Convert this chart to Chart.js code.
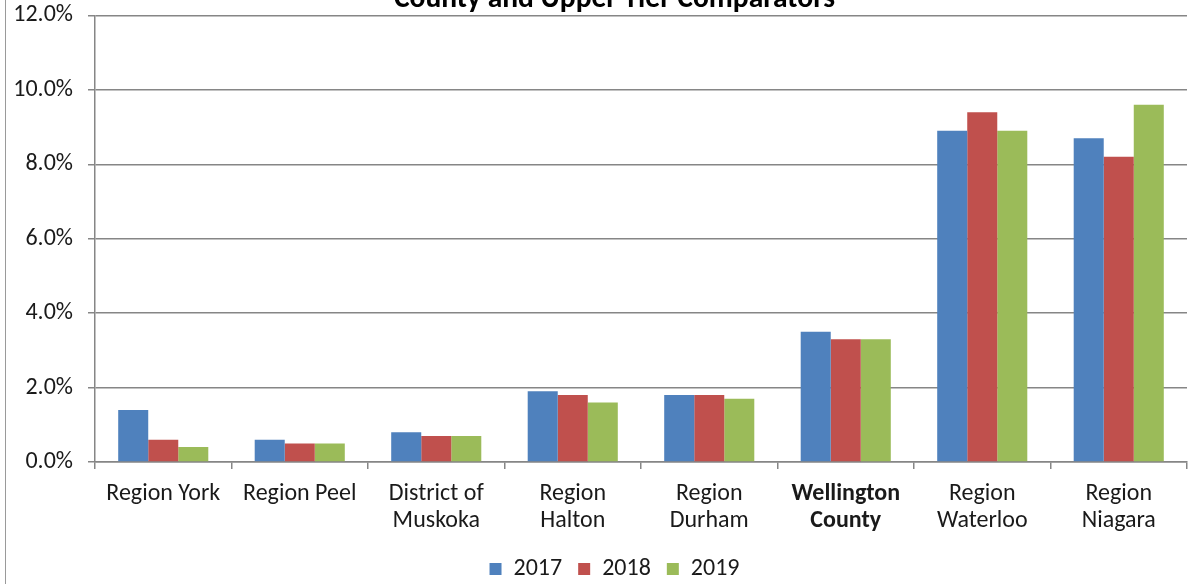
<!DOCTYPE html>
<html>
<head>
<meta charset="utf-8">
<script src="https://cdn.jsdelivr.net/npm/chart.js@4.4.1/dist/chart.umd.min.js"></script>
<style>
  html, body { margin: 0; padding: 0; background: #fff; overflow: hidden; }
  body { width: 1193px; height: 584px; position: relative; overflow: hidden; }
  #wrap { position: absolute; left: 0; top: -30px; width: 1229px; height: 621px; }
  #frame { position: absolute; left: 5px; top: 0; width: 0; height: 584px; border-left: 1px solid #9a9a9a; }
</style>
</head>
<body>
<div id="frame"></div>
<div id="wrap"><canvas id="chart"></canvas></div>
<script>
const categories = [
  'Region York', 'Region Peel', ['District of', 'Muskoka'], ['Region', 'Halton'],
  ['Region', 'Durham'], ['Wellington', 'County'], ['Region', 'Waterloo'], ['Region', 'Niagara']
];
const years = ['2017', '2018', '2019'];
const values2017 = [1.4, 0.6, 0.8, 1.9, 1.8, 3.5, 8.9, 8.7];
const values2018 = [0.6, 0.5, 0.7, 1.8, 1.8, 3.3, 9.4, 8.2];
const values2019 = [0.4, 0.5, 0.7, 1.6, 1.7, 3.3, 8.9, 9.6];
const colors = ['#4f81bd', '#c0504d', '#9bbb59'];

const FONT = 'Calibri, Carlito, "Noto Sans", sans-serif';
const grey = '#868686';

new Chart(document.getElementById('chart'), {
  type: 'bar',
  data: {
    labels: categories,
    datasets: [values2017, values2018, values2019].map((v, i) => ({
      label: years[i],
      data: v,
      backgroundColor: colors[i],
      borderWidth: 0,
      categoryPercentage: 0.66,
      barPercentage: 1.0
    }))
  },
  options: {
    responsive: true,
    maintainAspectRatio: false,
    animation: false,
    layout: { padding: 0 },
    plugins: {
      title: {
        display: true,
        text: 'County and Upper Tier Comparators',
        color: '#000',
        font: { family: FONT, size: 29.5, weight: 'bold', lineHeight: 1.1 },
        padding: { top: 13, bottom: 0 }
      },
      legend: {
        position: 'bottom',
        labels: {
          boxWidth: 12, boxHeight: 12, padding: 16,
          color: '#1a1a1a',
          font: { family: FONT, size: 24 }
        }
      },
      tooltip: { enabled: false }
    },
    scales: {
      x: {
        offset: true,
        grid: { display: true, drawOnChartArea: false, drawTicks: true, tickLength: 7, color: grey, lineWidth: 1.5 },
        border: { color: grey, width: 1.5 },
        ticks: {
          maxRotation: 0, autoSkip: false, padding: 12, color: '#1a1a1a',
          font: ctx => ({ family: FONT, size: 24, weight: ctx.index === 5 ? 'bold' : 'normal', lineHeight: 1.12 })
        },
        afterFit: s => { s.height = 79; }
      },
      y: {
        min: 0, max: 12,
        ticks: {
          stepSize: 2, padding: 15, color: '#1a1a1a',
          font: { family: FONT, size: 24 },
          callback: v => v.toFixed(1) + '%'
        },
        grid: { color: grey, lineWidth: 1.5, tickLength: 7 },
        border: { color: grey, width: 1.5 },
        afterFit: s => { s.width = 95; }
      },
      // empty spacer on the right so the plot ends where the original does
      spacer: {
        type: 'linear', position: 'right', display: true,
        grid: { display: false }, border: { display: false }, ticks: { display: false },
        afterFit: s => { s.width = 42; }
      }
    }
  }
});
</script>
</body>
</html>
